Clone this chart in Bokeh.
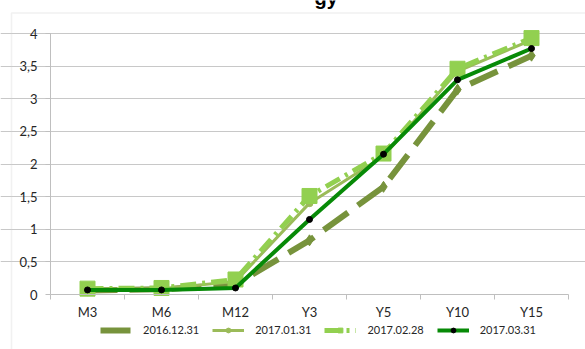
from bokeh.plotting import figure
from bokeh.models import (Range1d, FixedTicker, Legend, LegendItem, BoxAnnotation, Label)
from bokeh.embed import file_html
from bokeh.resources import INLINE

# tenors along the curve
categories = ["M3", "M6", "M12", "Y3", "Y5", "Y10", "Y15"]

# yield curves at four month-ends (%)
dec_2016 = [0.06, 0.08, 0.15, 0.83, 1.65, 3.14, 3.66]
jan_2017 = [0.08, 0.09, 0.20, 1.40, 2.12, 3.42, 3.90]
feb_2017 = [0.09, 0.10, 0.23, 1.51, 2.16, 3.46, 3.93]
mar_2017 = [0.07, 0.07, 0.10, 1.15, 2.15, 3.29, 3.77]

y_ticks = [0, 0.5, 1, 1.5, 2, 2.5, 3, 3.5, 4]

FONT = "Lato"
W, H = 585, 349
n = len(categories)
xs = list(range(n))

# plot-area placement on the canvas (pixels)
PA_L, PA_R, PA_T, PA_B = 50, 568, 33, 294
Y_MIN, Y_MAX = 0, 4
x_scale = (PA_R - PA_L) / n                    # px per category
y_scale = (PA_B - PA_T) / (Y_MAX - Y_MIN)      # px per unit


def px_x(px):
    return -0.5 + (px - PA_L) / x_scale


def px_y(py):
    return Y_MIN + (PA_B - py) / y_scale


# the frame fills the whole canvas; axes are pinned to the plot-area edges
p = figure(width=W, height=H, output_backend="svg", toolbar_location=None,
           x_range=Range1d(px_x(0), px_x(W)), y_range=Range1d(px_y(H), px_y(0)),
           min_border=0)
p.outline_line_color = None
p.background_fill_color = "white"
p.border_fill_color = "white"

# x axis: labels at category centres, ticks at category boundaries
xa = p.xaxis[0]
xa.fixed_location = Y_MIN
xa.bounds = (-0.5, n - 0.5)
xa.ticker = FixedTicker(ticks=xs, minor_ticks=[i - 0.5 for i in range(n + 1)])
xa.major_label_overrides = {i: c for i, c in enumerate(categories)}
xa.major_tick_out = 0
xa.major_tick_in = 0
xa.minor_tick_out = 5
xa.minor_tick_in = 0
xa.minor_tick_line_color = "#bfbfbf"
xa.axis_line_color = "#bfbfbf"
xa.major_label_standoff = 4
xa.major_label_text_font = FONT
xa.major_label_text_font_size = "13px"
xa.major_label_text_color = "#262626"

ya = p.yaxis[0]
ya.fixed_location = -0.5
ya.bounds = (Y_MIN, Y_MAX)
ya.ticker = FixedTicker(ticks=y_ticks)
ya.major_label_overrides = {t: (str(t).replace(".", ",") if t % 1 else str(int(t))) for t in y_ticks}
ya.major_tick_out = 5
ya.major_tick_in = 0
ya.minor_tick_line_color = None
ya.major_tick_line_color = "#bfbfbf"
ya.axis_line_color = "#bfbfbf"
ya.major_label_standoff = 8
ya.major_label_text_font = FONT
ya.major_label_text_font_size = "13px"
ya.major_label_text_color = "#262626"

p.xgrid.grid_line_color = None
p.ygrid.grid_line_color = "#c8c8c8"
p.ygrid.ticker = FixedTicker(ticks=y_ticks[1:])
p.ygrid.bounds = (-0.5, n - 0.5)

# series
l1 = p.line(xs, dec_2016, line_color="#77933C", line_width=6, line_dash="30 12")
m1 = p.scatter(xs, dec_2016, marker="diamond", size=11, fill_color="#77933C", line_color="#77933C")

l2 = p.line(xs, jan_2017, line_color="#9BBB59", line_width=3)
m2 = p.scatter(xs, jan_2017, marker="circle", size=7, fill_color="#9BBB59", line_color="#9BBB59")

l3 = p.line(xs, feb_2017, line_color="#92D050", line_width=5, line_dash="16 6 3 6")
m3 = p.scatter(xs, feb_2017, marker="square", size=15, fill_color="#92D050", line_color="#92D050")

l4 = p.line(xs, mar_2017, line_color="#078A07", line_width=4)
m4 = p.scatter(xs, mar_2017, marker="circle", size=6, fill_color="black", line_color="black")

legend = Legend(items=[
    LegendItem(label="2016.12.31", renderers=[l1, m1]),
    LegendItem(label="2017.01.31", renderers=[l2, m2]),
    LegendItem(label="2017.02.28", renderers=[l3, m3]),
    LegendItem(label="2017.03.31", renderers=[l4, m4]),
], orientation="horizontal", location=(100, 13))
legend.label_text_font = FONT
legend.label_text_font_size = "11px"
legend.label_text_color = "#262626"
legend.glyph_width = 32
legend.glyph_height = 12
legend.label_standoff = 11
legend.spacing = 13
legend.padding = 2
legend.margin = 0
legend.border_line_color = None
legend.background_fill_alpha = 0
p.add_layout(legend)

# chart area border
p.add_layout(BoxAnnotation(left=px_x(11), right=px_x(W + 20), top=px_y(12.5), bottom=px_y(H + 20),
                           fill_color=None, line_color="#d0d0d0", line_width=1.5))

# title, mostly above the visible area
p.add_layout(Label(x=px_x(314), y=px_y(-3), text="gy",
                   text_font="Liberation Sans", text_font_style="bold",
                   text_font_size="20px", text_color="black", text_baseline="alphabetic"))

open("out.html", "w").write(file_html(p, INLINE))
